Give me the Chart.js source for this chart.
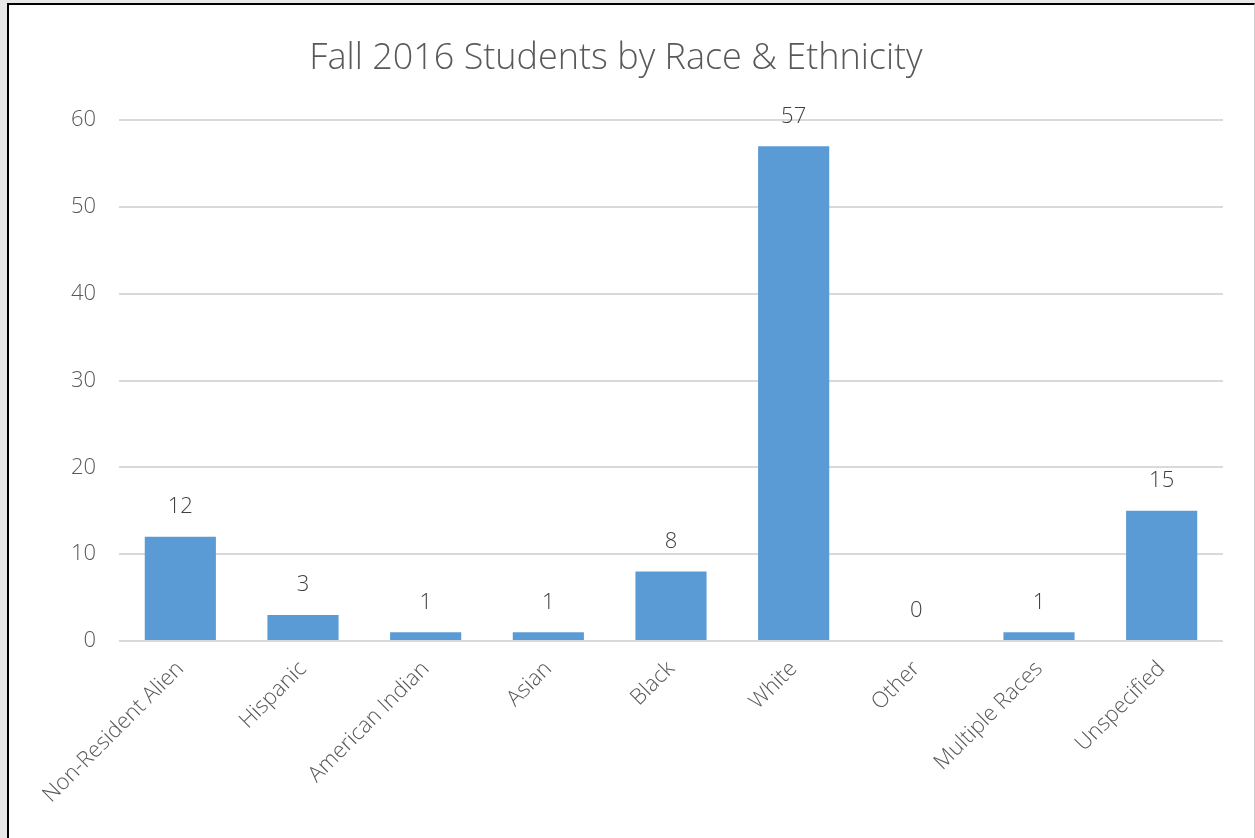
<!DOCTYPE html>
<html>
<head>
<meta charset="utf-8">
<script src="https://cdn.jsdelivr.net/npm/chart.js@4"></script>
<style>
  html, body { margin: 0; padding: 0; background: #e8e8e8; overflow: hidden; }
  #box {
    position: absolute; left: 7px; top: 3px; width: 1245px; height: 860px;
    background: #fff; border-left: 2px solid #000; border-top: 2px solid #000;
    border-right: 1px solid #d0d0d0;
  }
  #wrap { position: absolute; left: 0; top: 0; width: 1243px; height: 833px; }
</style>
</head>
<body>
<div id="box"><div id="wrap"><canvas id="barChart"></canvas></div></div>
<script>
// values
var categories = ["Non-Resident Alien", "Hispanic", "American Indian", "Asian", "Black", "White", "Other", "Multiple Races", "Unspecified"];
var students = [12, 3, 1, 1, 8, 57, 0, 1, 15];
var yTicks = [0, 10, 20, 30, 40, 50, 60];

var fontName = "'Open Sans', Lato, sans-serif";

// labels above each bar
var barLabels = {
    id: 'barLabels',
    afterDatasetsDraw: function (chart) {
        var ctx = chart.ctx;
        var meta = chart.getDatasetMeta(0);
        ctx.save();
        ctx.font = "300 22px " + fontName;
        ctx.fillStyle = "#404040";
        ctx.textAlign = "center";
        ctx.textBaseline = "bottom";
        meta.data.forEach(function (bar, i) {
            ctx.fillText(students[i], bar.x, bar.y - 19);
        });
        ctx.restore();
    }
};

var ctxBar = document.getElementById('barChart');
var barChart = new Chart(ctxBar, {
    type: 'bar',
    data: {
        labels: categories,
        datasets: [{
            data: students,
            backgroundColor: "#5B9BD5",
            borderWidth: 0,
            categoryPercentage: 1,
            barPercentage: 0.58
        }]
    },
    options: {
        responsive: true,
        maintainAspectRatio: false,
        animation: false,
        layout: { padding: { left: 0, right: 29, top: 0, bottom: 0 } },
        plugins: {
            legend: { display: false },
            tooltip: { enabled: false },
            title: {
                display: true,
                text: "Fall 2016 Students by Race & Ethnicity",
                color: "#595959",
                font: { family: fontName, size: 36, weight: 300 },
                padding: { top: 32, bottom: 40 }
            }
        },
        scales: {
            x: {
                grid: { display: false },
                border: { display: false },
                ticks: {
                    color: "#595959",
                    font: { family: fontName, size: 22, weight: 300 },
                    minRotation: 45,
                    maxRotation: 45,
                    autoSkip: false,
                    padding: 7
                },
                afterFit: function (scale) { scale.height = 197; }
            },
            y: {
                min: yTicks[0],
                max: yTicks[yTicks.length - 1],
                afterBuildTicks: function (scale) {
                    scale.ticks = yTicks.map(function (v) { return { value: v }; });
                },
                grid: { color: "#d9d9d9", lineWidth: 2, drawTicks: false },
                border: { display: false },
                ticks: {
                    color: "#595959",
                    font: { family: fontName, size: 22, weight: 300 },
                    padding: 23
                },
                afterFit: function (scale) { scale.width = 110; }
            }
        }
    },
    plugins: [barLabels]
});
</script>
</body>
</html>
